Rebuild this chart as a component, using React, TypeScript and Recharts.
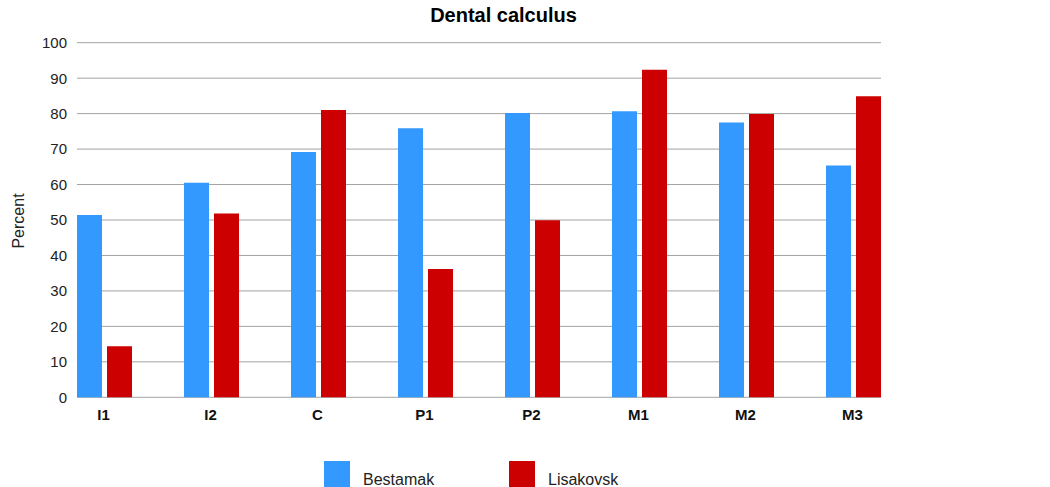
import { BarChart, Bar, XAxis, YAxis, CartesianGrid } from "recharts";

const categories = ["I1", "I2", "C", "P1", "P2", "M1", "M2", "M3"];
const bestamak = [51.4, 60.5, 69.2, 75.9, 80.2, 80.7, 77.5, 65.4];
const lisakovsk = [14.4, 51.8, 81.0, 36.2, 49.9, 92.4, 79.9, 84.9];
const yTicks = [0, 10, 20, 30, 40, 50, 60, 70, 80, 90, 100];

const series = [
  { key: "bestamak", name: "Bestamak", color: "#3399ff" },
  { key: "lisakovsk", name: "Lisakovsk", color: "#cc0000" },
];

const data = categories.map((tooth, i) => ({
  tooth,
  bestamak: bestamak[i],
  lisakovsk: lisakovsk[i],
}));

const FONT = "'Liberation Sans', Arial, sans-serif";

const XTick = ({ x, payload }: any) => (
  <text x={x - 1} y={420} textAnchor="middle" fontFamily={FONT} fontSize={15} fontWeight="bold" fill="#111">
    {payload.value}
  </text>
);

const YTick = ({ y, payload }: any) => (
  <text x={67} y={y} dy="0.36em" textAnchor="end" fontFamily={FONT} fontSize={15} fill="#222">
    {payload.value}
  </text>
);

export default function App() {
  return (
    <div style={{ position: "absolute", left: 0, top: 0, width: 1050, height: 487, background: "#fff", overflow: "hidden" }}>
      <div
        style={{
          position: "absolute",
          left: 0,
          width: 1007,
          top: 4,
          textAlign: "center",
          fontFamily: FONT,
          fontWeight: "bold",
          fontSize: 20,
          color: "#000",
        }}
      >
        Dental calculus
      </div>
      <BarChart
        width={1050}
        height={487}
        data={data}
        barSize={25}
        barGap={5}
        margin={{ top: 42.7, right: 169, bottom: 59.7, left: 17 }}
      >
        <CartesianGrid vertical={false} stroke="#a3a3a3" strokeWidth={1} />
        <XAxis
          dataKey="tooth"
          axisLine={false}
          tickLine={false}
          height={30}
          padding={{ left: -26, right: -26 }}
          tick={<XTick />}
          interval={0}
        />
        <YAxis
          width={60}
          domain={[0, 100]}
          ticks={yTicks}
          axisLine={false}
          tickLine={false}
          tick={<YTick />}
          label={{
            content: () => (
              <text
                x={24}
                y={221}
                transform="rotate(-90, 24, 221)"
                textAnchor="middle"
                fontFamily={FONT}
                fontSize={16}
                fill="#222"
              >
                Percent
              </text>
            ),
          }}
        />
        {series.map((s) => (
          <Bar key={s.key} dataKey={s.key} name={s.name} fill={s.color} isAnimationActive={false} />
        ))}
      </BarChart>
      {series.map((s, i) => (
        <div key={s.key} style={{ position: "absolute", left: 324 + i * 185, top: 461, display: "flex", fontFamily: FONT }}>
          <div style={{ width: 26, height: 26, background: s.color }} />
          <div style={{ marginLeft: 13, fontSize: 16, lineHeight: "16px", marginTop: 11, color: "#222" }}>{s.name}</div>
        </div>
      ))}
    </div>
  );
}
